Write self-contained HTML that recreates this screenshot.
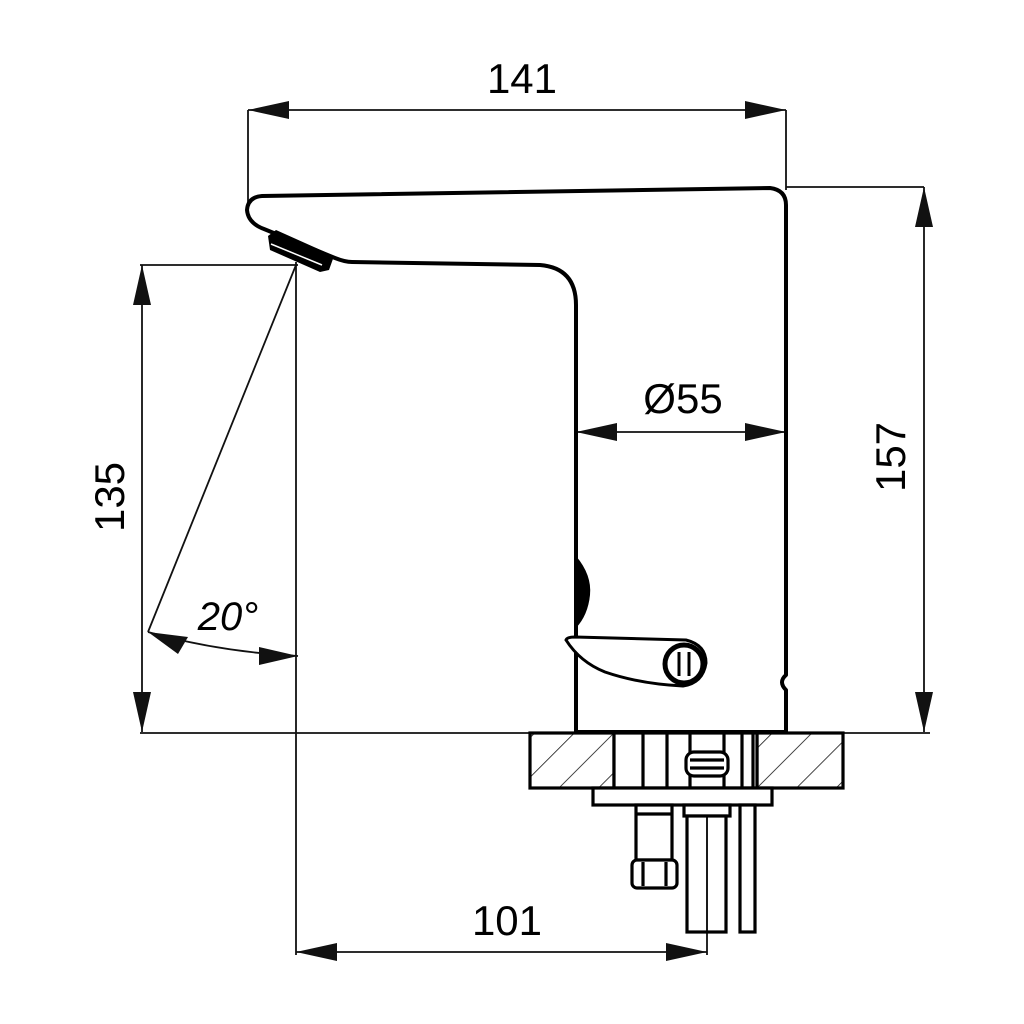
<!DOCTYPE html>
<html><head><meta charset="utf-8"><style>html,body{margin:0;padding:0;background:#fff}svg{display:block}</style></head>
<body>
<svg width="1024" height="1024" viewBox="0 0 1024 1024" xmlns="http://www.w3.org/2000/svg">
<defs>
<pattern id="h" patternUnits="userSpaceOnUse" width="28" height="28" patternTransform="rotate(45)">
<line x1="0" y1="0" x2="0" y2="28" stroke="#111" stroke-width="1.6"/>
</pattern>
</defs>
<g fill="none" stroke="#111" stroke-width="1.8">
<line x1="248" y1="110" x2="786" y2="110"/>
<line x1="248" y1="110" x2="248" y2="205"/>
<line x1="786" y1="110" x2="786" y2="190"/>
<line x1="786" y1="187" x2="924" y2="187"/>
<line x1="924" y1="187" x2="924" y2="732"/>
<line x1="140" y1="733" x2="930" y2="733"/>
<line x1="140" y1="265" x2="298" y2="265"/>
<line x1="142" y1="265" x2="142" y2="732"/>
<line x1="296" y1="262" x2="296" y2="955"/>
<line x1="296" y1="952" x2="707" y2="952"/>
<line x1="707" y1="900" x2="707" y2="955"/>
<line x1="576" y1="432" x2="786" y2="432"/>
<line x1="296" y1="265" x2="148" y2="632"/>
<path d="M148 632 Q220 652 298 656"/>
</g>
<g fill="#111">
<polygon points="248,110 289,101 289,119"/>
<polygon points="786,110 745,101 745,119"/>
<polygon points="924,187 915,227 933,227"/>
<polygon points="924,732 915,692 933,692"/>
<polygon points="142,265 133,305 151,305"/>
<polygon points="142,732 133,692 151,692"/>
<polygon points="296,952 337,943 337,961"/>
<polygon points="707,952 666,943 666,961"/>
<polygon points="576,432 617,423 617,441"/>
<polygon points="786,432 745,423 745,441"/>
<polygon points="148,632 188,637 178,654"/>
<polygon points="298,656 259,647 259,665"/>
</g>
<g fill="none" stroke="#000" stroke-width="4" stroke-linejoin="round">
<path d="M576 732 L576 305 Q576 268 540 265 L352 262 Q345 262 335 258 L264 229 Q248 223 247 210 Q248 197 262 196 L770 188 Q786 190 786 205 L786 675 Q778 682 786 690 L786 732"/>
<line x1="576" y1="732" x2="786" y2="732"/>
</g>
<polygon points="268,236 276,230 334,256 329,270 320,272 270,250" fill="#000"/>
<line x1="271" y1="244" x2="322" y2="265" stroke="#fff" stroke-width="1.5"/>
<path d="M576 556 Q592 575 590 595 Q588 615 576 628 Z" fill="#000"/>
<path d="M566 640 Q567 637 575 637 L686 640 Q706 645 706 663 Q703 683 683 686 Q640 684 605 672 Q580 662 566 640 Z" fill="#fff" stroke="#000" stroke-width="3"/>
<circle cx="684" cy="664" r="19" fill="#fff" stroke="#000" stroke-width="5"/>
<line x1="679" y1="652" x2="679" y2="676" stroke="#000" stroke-width="3"/>
<line x1="689" y1="652" x2="689" y2="676" stroke="#000" stroke-width="3"/>
<g stroke="#000" stroke-width="3.2">
<rect x="530" y="733" width="84" height="55" fill="url(#h)"/>
<rect x="757" y="733" width="86" height="55" fill="url(#h)"/>
<rect x="614" y="733" width="143" height="55" fill="#fff"/>
<line x1="643" y1="733" x2="643" y2="788"/>
<line x1="667" y1="733" x2="667" y2="788"/>
<line x1="690" y1="733" x2="690" y2="788"/>
<line x1="724" y1="733" x2="724" y2="788"/>
<line x1="742" y1="733" x2="742" y2="788"/>
<line x1="753" y1="733" x2="753" y2="788"/>
<rect x="686" y="752" width="42" height="24" rx="8" fill="#fff"/>
<line x1="690" y1="760" x2="724" y2="760"/>
<line x1="690" y1="768" x2="724" y2="768"/>
<rect x="593" y="788" width="179" height="17" fill="#fff"/>
<rect x="636" y="805" width="36" height="55" fill="#fff"/>
<line x1="636" y1="814" x2="672" y2="814"/>
<rect x="632" y="860" width="45" height="28" rx="5" fill="#fff"/>
<line x1="643" y1="862" x2="643" y2="886"/>
<line x1="666" y1="862" x2="666" y2="886"/>
<rect x="684" y="805" width="46" height="11" fill="#fff"/>
<rect x="687" y="816" width="39" height="116" fill="#fff"/>
<line x1="707" y1="816" x2="707" y2="932" stroke-width="1.8"/>
<rect x="740" y="805" width="15" height="127" fill="#fff"/>
</g>
<g font-family="'Liberation Sans', sans-serif" fill="#000" font-size="42">
<text x="522" y="93" text-anchor="middle">141</text>
<text x="683" y="413" text-anchor="middle">Ø55</text>
<text x="507" y="935" text-anchor="middle">101</text>
<text transform="translate(905,457) rotate(-90)" text-anchor="middle">157</text>
<text transform="translate(124,497) rotate(-90)" text-anchor="middle">135</text>
<text x="228" y="630" text-anchor="middle" font-style="italic" font-size="40">20°</text>
</g>
</svg>
</body></html>
